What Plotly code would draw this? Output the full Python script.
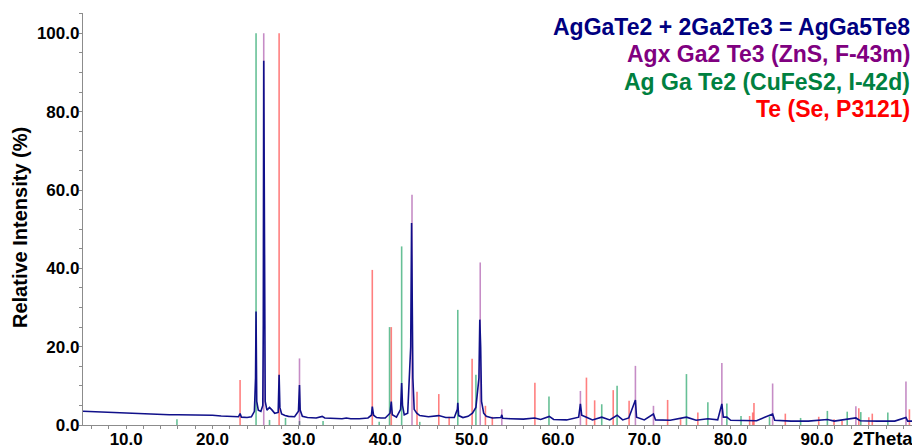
import plotly.graph_objects as go

# ---- measured pattern (2Theta, relative intensity %) ----
meas_x = [5.0, 6.0, 7.0, 8.0, 9.0, 10.0, 11.0, 12.0, 13.0, 14.0, 15.0, 16.0, 17.0, 18.0, 19.0, 20.0,
          21.0, 22.0, 23.0, 23.19, 23.35, 24.0, 24.5, 24.85, 24.98, 25.04, 25.08, 25.12, 25.3, 25.6,
          25.82, 25.88, 25.93, 25.97, 26.02, 26.1, 26.3, 26.6, 26.9, 27.2, 27.6, 27.71, 27.8, 28.0,
          28.4, 28.8, 29.5, 29.95, 30.07, 30.15, 30.4, 31.0, 32.0, 32.7, 33.0, 34.0, 35.0, 35.5, 36.0,
          37.0, 38.0, 38.4, 38.5, 38.65, 39.0, 39.5, 40.0, 40.55, 40.7, 40.82, 41.3, 41.78, 41.9, 42.0,
          42.2, 42.6, 42.95, 43.05, 43.1, 43.2, 43.35, 43.65, 44.0, 45.0, 46.2, 47.0, 48.0, 48.35,
          48.4, 48.5, 49.0, 49.6, 50.1, 50.5, 50.85, 50.95, 51.05, 51.15, 51.4, 51.7, 52.4, 53.4, 53.5,
          53.6, 54.5, 56.0, 57.3, 58.0, 59.0, 59.5, 61.0, 62.4, 62.6, 62.75, 63.3, 64.0, 65.07, 66.0,
          66.85, 67.5, 68.2, 68.97, 69.1, 70.0, 71.06, 71.3, 73.0, 74.88, 76.0, 77.36, 78.5, 78.98,
          79.15, 79.56, 80.0, 82.0, 83.0, 84.86, 85.1, 87.0, 89.0, 91.2, 92.0, 94.5, 95.0, 97.0, 99.0,
          100.3, 100.5, 101.0]
meas_y = [3.5, 3.4, 3.3, 3.2, 3.1, 3.0, 2.9, 2.8, 2.7, 2.7, 2.6, 2.6, 2.6, 2.5, 2.5, 2.5,
          2.3, 2.2, 2.1, 2.9, 2.0, 1.9, 2.1, 3.5, 12.0, 29.0, 20.0, 6.0, 3.8, 3.5,
          5.0, 26.0, 93.0, 63.0, 24.0, 6.0, 3.8, 4.5, 3.8, 3.0, 3.2, 12.8, 4.5, 2.8,
          2.4, 2.2, 2.1, 3.5, 10.2, 3.8, 2.2, 1.9, 1.8, 2.2, 1.8, 1.7, 1.6, 1.8, 1.6,
          1.6, 1.8, 2.5, 4.7, 2.5, 1.9, 1.8, 1.8, 3.0, 6.0, 2.6, 2.0, 4.0, 10.7, 5.0,
          2.6, 3.0, 20.0, 51.6, 36.0, 12.0, 4.0, 3.0, 2.4, 2.1, 2.4, 1.9, 1.9, 4.0,
          5.7, 2.4, 1.9, 2.2, 3.0, 4.5, 12.0, 26.9, 20.0, 6.0, 3.0, 2.2, 1.8, 1.9, 2.6,
          1.7, 1.6, 1.5, 1.8, 1.4, 2.2, 1.4, 1.3, 2.0, 5.4, 2.5, 2.0, 1.3, 2.0, 1.3,
          2.5, 1.3, 1.8, 6.4, 2.0, 1.3, 2.8, 1.3, 1.2, 2.0, 1.2, 1.6, 1.3, 5.4,
          2.0, 2.0, 1.2, 1.1, 1.1, 2.8, 1.2, 1.0, 1.0, 1.4, 1.0, 1.8, 1.1, 1.0, 1.0,
          1.9, 1.0, 1.0]

# ---- reference stick patterns ----
agx_pos = [25.93, 30.07, 43.1, 51.0, 53.5, 62.6, 68.97, 71.06, 78.98, 84.86, 94.5, 100.3]
agx_int = [100, 17, 58.8, 41.5, 4.0, 8.7, 15.1, 4.9, 15.8, 10.6, 4.8, 11.1]

aggate2_pos = [15.88, 25.04, 26.6, 28.45, 30.07, 32.8, 39.3, 40.5, 41.9, 44.0, 48.4, 50.5, 58.96,
               65.07, 66.85, 74.88, 77.36, 79.56, 81.2, 84.5, 88.1, 91.2, 93.5, 95.07, 98.2]
aggate2_int = [1.5, 100, 1.3, 1.8, 1.0, 1.0, 0.8, 25.0, 45.6, 0.8, 29.4, 12.8, 7.3,
               5.3, 10.0, 13.0, 5.8, 5.5, 2.3, 2.2, 1.8, 3.6, 3.4, 3.3, 3.2]

te_pos = [23.19, 27.71, 38.5, 40.7, 43.68, 46.2, 47.4, 50.06, 51.6, 52.4, 57.33, 63.3, 64.25, 66.4,
          68.24, 72.7, 74.2, 76.2, 82.2, 82.55, 82.7, 86.33, 90.2, 91.97, 92.9, 94.84, 96.0, 96.4, 100.7]
te_int = [11.5, 100, 39.6, 25.0, 8.5, 7.9, 2.1, 16.9, 4.9, 2.1, 10.8, 12.1, 6.3, 8.9,
          6.2, 6.4, 1.5, 3.2, 2.3, 3.2, 5.6, 2.9, 2.1, 1.5, 1.0, 4.3, 2.0, 2.9, 4.0]

x_tick_vals = [10, 20, 30, 40, 50, 60, 70, 80, 90]
x_tick_text = ["10.0", "20.0", "30.0", "40.0", "50.0", "60.0", "70.0", "80.0", "90.0"]
y_tick_vals = [0, 20, 40, 60, 80, 100]
y_tick_text = ["0.0", "20.0", "40.0", "60.0", "80.0", "100.0"]

legend_lines = ["AgGaTe2 + 2Ga2Te3 = AgGa5Te8", "Agx Ga2 Te3 (ZnS, F-43m)",
                "Ag Ga Te2 (CuFeS2, I-42d)", "Te (Se, P3121)"]
legend_colors = ["#000080", "#800080", "#008040", "#ff0000"]

FONT = "Liberation Sans, Arial, sans-serif"


def sticks(pos, inten):
    xs, ys = [], []
    for p, h in zip(pos, inten):
        xs += [p, p, None]
        ys += [0, h, None]
    return xs, ys


fig = go.Figure()
for pos, inten, col in [(aggate2_pos, aggate2_int, "rgba(0,150,80,0.6)"),
                        (te_pos, te_int, "rgba(255,0,0,0.5)"),
                        (agx_pos, agx_int, "rgba(128,0,128,0.45)")]:
    sx, sy = sticks(pos, inten)
    fig.add_trace(go.Scatter(x=sx, y=sy, mode="lines", line=dict(color=col, width=1.6),
                             hoverinfo="skip", showlegend=False))

fig.add_trace(go.Scatter(x=meas_x, y=meas_y, mode="lines",
                         line=dict(color="#10108a", width=1.6), showlegend=False))

# page body has an 8px default margin: figure occupies screen 8..920 x 8..448
OFF = 8
W, H = 920 - OFF, 448 - OFF
# plot area in screen pixels: x 83..912, y 13..425
SX0, SX1, SY0, SY1 = 83, 912, 13, 425
ml, mr, mt, mb = SX0 - OFF, W - (SX1 - OFF), SY0 - OFF, H - (SY1 - OFF)
pw, ph = SX1 - SX0, SY1 - SY0


def px(sx):
    return (sx - SX0) / pw


def py(sy):
    return (SY1 - sy) / ph


fig.update_layout(
    width=W, height=H,
    margin=dict(l=ml, r=mr, t=mt, b=mb, pad=0, autoexpand=False),
    plot_bgcolor="white", paper_bgcolor="white",
    showlegend=False,
    font=dict(family=FONT),
)
tickfont = dict(family=FONT, size=17, color="black", weight="bold")
fig.update_xaxes(range=[5, 101], tickvals=x_tick_vals, ticktext=x_tick_text, automargin=False,
                 showgrid=False, zeroline=False, showline=True, linecolor="#8c8c8c", linewidth=1.3,
                 ticks="outside", ticklen=3, tickcolor="#8c8c8c", ticklabelstandoff=-5,
                 minor=dict(dtick=2, tick0=0, ticks="outside", ticklen=3, tickcolor="#8c8c8c"),
                 tickfont=tickfont)
fig.update_yaxes(range=[0, 105.2], tickvals=y_tick_vals, ticktext=y_tick_text, automargin=False,
                 showgrid=False, zeroline=False, showline=True, linecolor="#8c8c8c", linewidth=1.3,
                 ticks="outside", ticklen=3, tickcolor="#8c8c8c", ticklabelstandoff=-4,
                 minor=dict(dtick=5, tick0=0, ticks="outside", ticklen=3, tickcolor="#8c8c8c"),
                 tickfont=tickfont)

# y axis title
fig.add_annotation(text="<b>Relative Intensity (%)</b>", xref="paper", yref="paper",
                   x=px(20), y=py(228), textangle=-90,
                   showarrow=False, xanchor="center", yanchor="middle",
                   font=dict(family=FONT, size=20, color="black"))
# x axis title
fig.add_annotation(text="<b>2Theta</b>", xref="paper", yref="paper", x=px(914), y=py(438),
                   xanchor="right", yanchor="middle", showarrow=False, height=18, borderpad=0,
                   font=dict(family=FONT, size=18.5, color="black"))

# legend text
for i, (t, c) in enumerate(zip(legend_lines, legend_colors)):
    fig.add_annotation(text="<b>" + t + "</b>", xref="paper", yref="paper", x=px(912),
                       y=py(26.7 + i * 27.6),
                       xanchor="right", yanchor="middle", showarrow=False,
                       font=dict(family=FONT, size=23, color=c))

fig.write_html("out.html")
